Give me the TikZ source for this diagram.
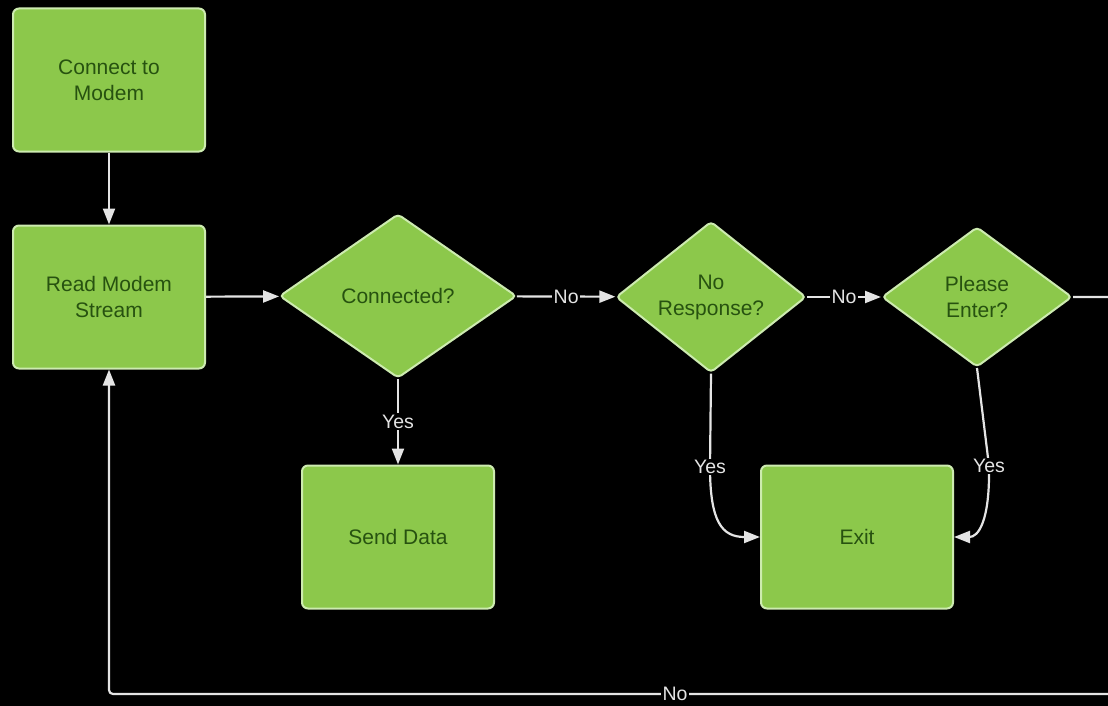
\documentclass[tikz,border=0pt]{standalone}
\usepackage{fontspec}
\setmainfont{Liberation Sans}
\usetikzlibrary{arrows.meta,shapes.geometric}
\definecolor{boxgreen}{HTML}{8CC84B}
\definecolor{boxedge}{HTML}{CDEBB0}
\definecolor{boxtext}{HTML}{275210}
\definecolor{wire}{HTML}{E4E4E4}
\begin{document}
\begin{tikzpicture}[x=1pt,y=-1pt,
  box/.style={rectangle, rounded corners=6pt, fill=boxgreen, draw=boxedge, line width=2pt,
    minimum width=192pt, minimum height=143pt, align=center, text=boxtext,
    font=\fontsize{21}{26}\selectfont},
  dec/.style={diamond, rounded corners=4pt, fill=boxgreen, draw=boxedge, line width=2pt,
    inner sep=0pt, align=center, text=boxtext, font=\fontsize{21}{26}\selectfont},
  wireline/.style={draw=wire, line width=2.2pt},
  arr/.style={wireline, -{Triangle[length=16pt,width=12pt]}},
  lab/.style={fill=black, text=wire, inner sep=1.5pt, font=\fontsize{19.5}{22}\selectfont}]
\fill[black] (0,0) rectangle (1108,706);
\clip (0,0) rectangle (1108,706);
\useasboundingbox (0,0) rectangle (1108,706);

\node[box] (c2m) at (109,80) {Connect to\\Modem};
\node[box] (rms) at (109,297) {Read Modem\\Stream};
\node[dec, minimum width=237pt, minimum height=164pt] (conn) at (398,296) {Connected?};
\node[dec, minimum width=190pt, minimum height=140pt] (noresp) at (711,297) {No\\Response?};
\node[dec, minimum width=190pt, minimum height=140pt] (please) at (977,297) {Please\\Enter?};
\node[box] (send) at (398,537) {Send Data};
\node[box] (exit) at (857,537) {Exit};

\draw[arr] (c2m) -- (rms);
\draw[arr] (rms) -- (conn);
\draw[arr] (conn) -- node[lab]{No} (noresp);
\draw[arr] (noresp) -- node[lab]{No} (please);
\draw[arr] (conn) -- node[lab]{Yes} (send);

\coordinate (y1) at (710,467);
\coordinate (y2) at (989,466);
\draw[wireline] (noresp.south) -- (y1);
\draw[arr] (y1) .. controls (710,522) and (722,537) .. (exit.west);
\draw[wireline] (please.south) -- (y2);
\draw[arr] (y2) .. controls (990,522) and (978,537) .. (exit.east);
\node[lab] (yes1) at (y1) {Yes};
\node[lab] (yes2) at (y2) {Yes};

\coordinate (r1) at (1130,297);
\coordinate (r2) at (1130,694);
\coordinate (l1) at (109,694);
\draw[arr, rounded corners=4pt] (please.east) -- (r1) -- (r2) -- (l1) -- (rms.south);
\node[lab] (no3) at (675,694) {No};
\end{tikzpicture}
\end{document}
